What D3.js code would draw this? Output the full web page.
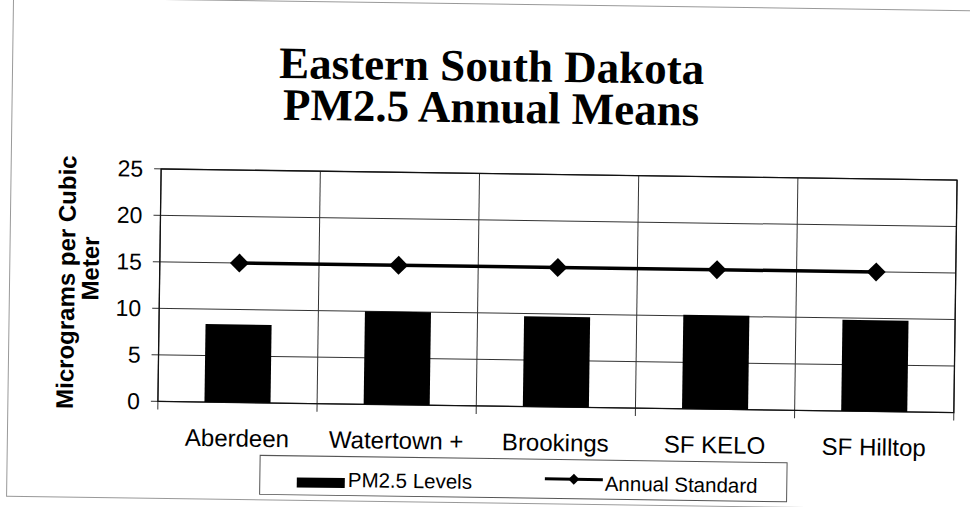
<!DOCTYPE html>
<html>
<head>
<meta charset="utf-8">
<script src="https://cdn.jsdelivr.net/npm/d3@7"></script>
<style>
  body { margin: 0; background: #fff; }
  svg { display: block; }
</style>
</head>
<body>
<svg id="chart" width="970" height="507"></svg>
<script>
const categories = ['Aberdeen', 'Watertown +', 'Brookings', 'SF KELO', 'SF Hilltop']
const pm25Levels = [8.4, 10.0, 9.7, 10.1, 9.8]
const annualStandard = [15, 15, 15, 15, 15]
const yTicks = [0, 5, 10, 15, 20, 25]
const titleLines = ['Eastern South Dakota', 'PM2.5 Annual Means']
const yTitleLines = ['Micrograms per Cubic', 'Meter']

const sans = '"Liberation Sans", Arial, sans-serif'
const serif = '"Liberation Serif", "Times New Roman", serif'

const svg = d3.select('#chart')
// the scan is tilted a little, so the whole page is turned with it
const g = svg.append('g').attr('transform', 'rotate(0.8, 485, 253)')

// outer frame
g.append('rect')
  .attr('x', 10).attr('y', 4)
  .attr('width', 1000).attr('height', 499)
  .attr('fill', 'none')
  .attr('stroke', '#999')
  .attr('stroke-width', 1)

const plot = { left: 160, right: 956, top: 173.5, bottom: 406 }

const x = d3.scaleBand()
  .domain(categories)
  .range([plot.left, plot.right])
  .padding(0)

const y = d3.scaleLinear()
  .domain([0, 25])
  .range([plot.bottom, plot.top])

// Title
g.append('g').selectAll('text')
  .data(titleLines)
  .enter()
  .append('text')
    .attr('x', 489)
    .attr('y', (d, i) => 81 + i * 41.5)
    .attr('text-anchor', 'middle')
    .style('font-family', serif)
    .style('font-weight', 'bold')
    .style('font-size', '45px')
    .text(d => d)

// horizontal gridlines
g.append('g').selectAll('line')
  .data(yTicks)
  .enter()
  .append('line')
    .attr('x1', plot.left - 7)
    .attr('x2', plot.right)
    .attr('y1', d => y(d))
    .attr('y2', d => y(d))
    .attr('stroke', '#333')
    .attr('stroke-width', 1)

// vertical gridlines at category borders
const borders = categories.map(c => x(c)).concat([plot.right])
g.append('g').selectAll('line')
  .data(borders)
  .enter()
  .append('line')
    .attr('x1', d => d)
    .attr('x2', d => d)
    .attr('y1', plot.top)
    .attr('y2', plot.bottom + 8)
    .attr('stroke', '#333')
    .attr('stroke-width', 1)

// plot frame
g.append('rect')
  .attr('x', plot.left).attr('y', plot.top)
  .attr('width', plot.right - plot.left)
  .attr('height', plot.bottom - plot.top)
  .attr('fill', 'none')
  .attr('stroke', '#111')
  .attr('stroke-width', 1.3)

// y tick labels
g.append('g').selectAll('text')
  .data(yTicks)
  .enter()
  .append('text')
    .attr('x', 142)
    .attr('y', d => y(d) + 8)
    .attr('text-anchor', 'end')
    .style('font-family', sans)
    .style('font-size', '23px')
    .text(d => d)

// y axis title, two lines
const yTitlePos = [[75, 288], [99, 274]]
g.append('g').selectAll('text')
  .data(yTitleLines)
  .enter()
  .append('text')
    .attr('transform', (d, i) => `translate(${yTitlePos[i][0]},${yTitlePos[i][1]}) rotate(-90)`)
    .attr('text-anchor', 'middle')
    .style('font-family', sans)
    .style('font-weight', 'bold')
    .style('font-size', '24px')
    .text(d => d)

// bars
const barW = x.bandwidth() * 0.415
g.append('g').selectAll('rect')
  .data(pm25Levels)
  .enter()
  .append('rect')
    .attr('x', (d, i) => x(categories[i]) + (x.bandwidth() - barW) / 2)
    .attr('y', d => y(d))
    .attr('width', barW)
    .attr('height', d => y(0) - y(d))
    .attr('fill', '#000')

// annual standard line
const line = d3.line()
  .x((d, i) => x(categories[i]) + x.bandwidth() / 2)
  .y(d => y(d))

g.append('path')
  .datum(annualStandard)
  .attr('d', line)
  .attr('fill', 'none')
  .attr('stroke', '#000')
  .attr('stroke-width', 3.5)

const diamond = d3.symbol(d3.symbolSquare, 180)
g.append('g').selectAll('path')
  .data(annualStandard)
  .enter()
  .append('path')
    .attr('d', diamond)
    .attr('transform', (d, i) => `translate(${x(categories[i]) + x.bandwidth() / 2},${y(d)}) rotate(45)`)
    .attr('fill', '#000')

// category labels
g.append('g').selectAll('text')
  .data(categories)
  .enter()
  .append('text')
    .attr('x', d => x(d) + x.bandwidth() / 2)
    .attr('y', 450)
    .attr('text-anchor', 'middle')
    .style('font-family', sans)
    .style('font-size', '24px')
    .text(d => d)

// Legend
const legend = g.append('g')
legend.append('rect')
  .attr('x', 263).attr('y', 458.5)
  .attr('width', 527).attr('height', 39)
  .attr('fill', '#fff')
  .attr('stroke', '#555')
  .attr('stroke-width', 1)

legend.append('rect')
  .attr('x', 300).attr('y', 480)
  .attr('width', 48).attr('height', 10)
  .attr('fill', '#000')

legend.append('text')
  .attr('x', 351).attr('y', 489)
  .style('font-family', sans)
  .style('font-size', '20.5px')
  .text('PM2.5 Levels')

legend.append('line')
  .attr('x1', 548).attr('x2', 606)
  .attr('y1', 478).attr('y2', 478)
  .attr('stroke', '#000')
  .attr('stroke-width', 3)

legend.append('path')
  .attr('d', d3.symbol(d3.symbolSquare, 60))
  .attr('transform', 'translate(577,478) rotate(45)')
  .attr('fill', '#000')

legend.append('text')
  .attr('x', 608).attr('y', 489)
  .style('font-family', sans)
  .style('font-size', '20.5px')
  .text('Annual Standard')
</script>
</body>
</html>
